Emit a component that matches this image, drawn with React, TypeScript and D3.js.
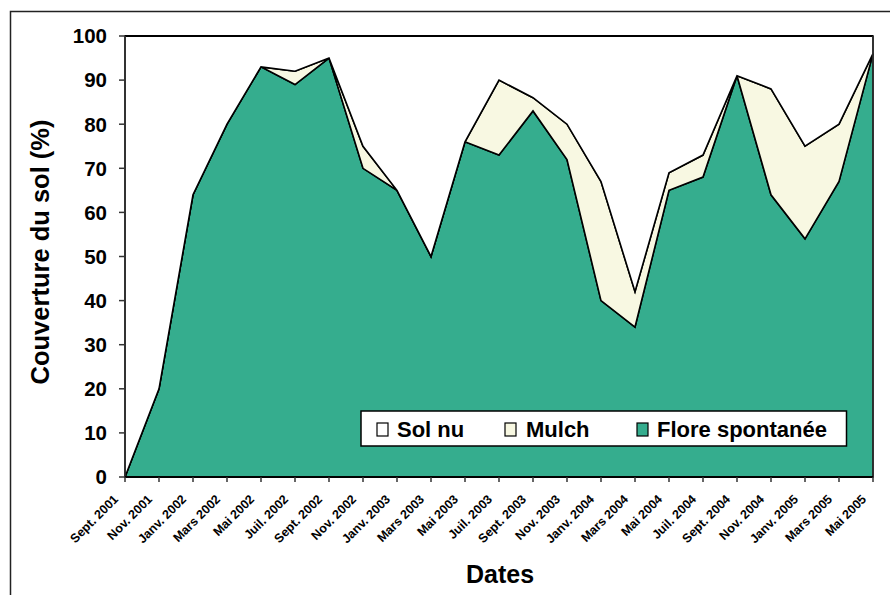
import React from "react";
import * as d3 from "d3";

const dates = [
  "Sept. 2001", "Nov. 2001", "Janv. 2002", "Mars 2002", "Mai 2002", "Juil. 2002",
  "Sept. 2002", "Nov. 2002", "Janv. 2003", "Mars 2003", "Mai 2003", "Juil. 2003",
  "Sept. 2003", "Nov. 2003", "Janv. 2004", "Mars 2004", "Mai 2004", "Juil. 2004",
  "Sept. 2004", "Nov. 2004", "Janv. 2005", "Mars 2005", "Mai 2005",
];
const flore = [0, 20, 64, 80, 93, 89, 95, 70, 65, 50, 76, 73, 83, 72, 40, 34, 65, 68, 91, 64, 54, 67, 96];
const mulch = [0, 0, 0, 0, 0, 3, 0, 5, 0, 0, 0, 17, 3, 8, 27, 8, 4, 5, 0, 24, 21, 13, 0];
const solNu = flore.map((f, i) => 100 - f - mulch[i]);
const yTicks = [0, 10, 20, 30, 40, 50, 60, 70, 80, 90, 100];

const seriesKeys = ["flore", "mulch", "solnu"];
const seriesColors: Record<string, string> = { flore: "#35AD8E", mulch: "#F8F8E2", solnu: "#FFFFFF" };
const legendItems = [
  { key: "solnu", label: "Sol nu" },
  { key: "mulch", label: "Mulch" },
  { key: "flore", label: "Flore spontanée" },
];

const FONT = "'Liberation Sans', Arial, sans-serif";

export default function App() {
  const left = 125, right = 873, top = 36, bottom = 477;
  const x = d3.scalePoint<string>().domain(dates).range([left, right]);
  const y = d3.scaleLinear().domain([0, 100]).range([bottom, top]);

  const rows = dates.map((d, i) => ({ date: d, flore: flore[i], mulch: mulch[i], solnu: solNu[i] }));
  const stacked = d3.stack<any>().keys(seriesKeys)(rows);
  const area = d3
    .area<any>()
    .x((d) => x(d.data.date) as number)
    .y0((d) => y(d[0]))
    .y1((d) => y(d[1]));

  const legendX = [377, 505, 637];
  const legendTextX = [397, 526, 657];

  return (
    <svg width={890} height={595} style={{ position: "absolute", left: 0, top: 0, background: "#fff" }}>
      <rect x={10.5} y={11.5} width={900} height={620} fill="#fff" stroke="#222" strokeWidth={1.5} />
      {stacked.map((s) => (
        <path key={s.key} d={area(s) || ""} fill={seriesColors[s.key]} stroke="#000" strokeWidth={1.6} strokeLinejoin="miter" />
      ))}
      <line x1={left} x2={right} y1={top} y2={top} stroke="#000" strokeWidth={2.2} />
      <line x1={right} x2={right} y1={top} y2={bottom} stroke="#333" strokeWidth={1.5} />
      {/* Y axis */}
      <line x1={left} x2={left} y1={top} y2={bottom} stroke="#333" strokeWidth={1.5} />
      {yTicks.map((t) => (
        <g key={t}>
          <line x1={left - 6} x2={left} y1={y(t)} y2={y(t)} stroke="#333" strokeWidth={1.5} />
          <text x={107} y={y(t)} dy="0.36em" textAnchor="end" fontFamily={FONT} fontWeight="bold" fontSize={20.5} fill="#000">
            {t}
          </text>
        </g>
      ))}
      {/* X axis */}
      <line x1={left} x2={right} y1={bottom} y2={bottom} stroke="#000" strokeWidth={2} />
      {dates.map((d) => {
        const tx = (x(d) as number) - 6;
        const ty = bottom + 23;
        return (
          <g key={d}>
            <line x1={x(d)} x2={x(d)} y1={bottom} y2={bottom + 5} stroke="#333" strokeWidth={1.5} />
            <g transform={`translate(${tx},${ty})`}>
              <text transform="rotate(-45)" textAnchor="end" fontFamily={FONT} fontWeight="bold" fontSize={12.5} fill="#000">
                {d}
              </text>
            </g>
          </g>
        );
      })}
      <text x={500} y={583} textAnchor="middle" fontFamily={FONT} fontWeight="bold" fontSize={25} fill="#000">
        Dates
      </text>
      <text
        transform={`translate(49,252) rotate(-90)`}
        textAnchor="middle"
        fontFamily={FONT}
        fontWeight="bold"
        fontSize={25.5}
        fill="#000"
      >
        Couverture du sol (%)
      </text>
      {/* Legend */}
      <rect x={361} y={411} width={485.5} height={35} fill="#fff" stroke="#000" strokeWidth={1.5} />
      {legendItems.map((it, i) => (
        <g key={it.key}>
          <rect x={legendX[i]} y={423} width={11} height={13} fill={seriesColors[it.key]} stroke="#000" strokeWidth={1.2} />
          <text x={legendTextX[i]} y={436.5} fontFamily={FONT} fontWeight="bold" fontSize={22} fill="#000">
            {it.label}
          </text>
        </g>
      ))}
    </svg>
  );
}
